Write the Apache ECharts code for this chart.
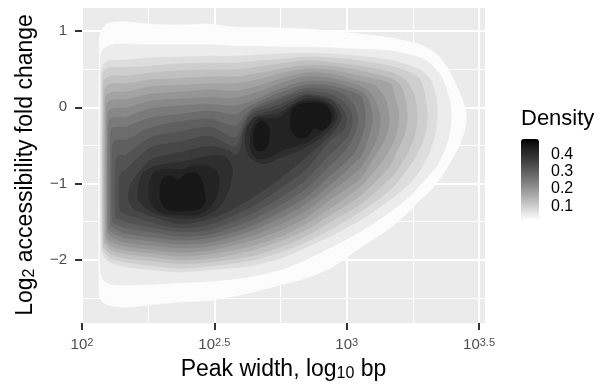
<!DOCTYPE html>
<html>
<head>
<meta charset="utf-8">
<script src="https://cdn.jsdelivr.net/npm/echarts@6/dist/echarts.min.js"></script>
<style>
html, body { margin: 0; padding: 0; background: #fff; }
#chart { width: 600px; height: 385px; }
</style>
</head>
<body>
<div id="chart"></div>
<script>
// contour levels of the 2d density
const levels = [0.025, 0.05, 0.075, 0.1, 0.125, 0.15, 0.175, 0.2, 0.225, 0.25, 0.275, 0.3, 0.325, 0.35, 0.375, 0.4, 0.425, 0.45];

// contour outlines, [log10 peak width, log2 fold change]
const band01 = [[2.065,-2.46],[2.065,0.88],[2.073,1.01],[2.092,1.09],[2.126,1.12],[2.164,1.12],[2.258,1.09],[2.371,1.08],[2.485,1.09],[2.579,1.05],[2.674,1.05],[2.749,1.04],[2.844,1.03],[2.938,1.00],[3.051,0.96],[3.165,0.91],[3.278,0.82],[3.342,0.69],[3.380,0.52],[3.410,0.32],[3.437,0.10],[3.452,-0.10],[3.444,-0.32],[3.422,-0.53],[3.391,-0.72],[3.354,-0.93],[3.308,-1.12],[3.278,-1.21],[3.240,-1.35],[3.165,-1.58],[3.051,-1.84],[2.938,-2.11],[2.844,-2.24],[2.749,-2.33],[2.636,-2.43],[2.485,-2.53],[2.371,-2.55],[2.258,-2.59],[2.164,-2.62],[2.107,-2.60],[2.077,-2.55]];
const band02 = [[2.069,-2.13],[2.069,0.65],[2.077,0.75],[2.096,0.80],[2.126,0.83],[2.164,0.83],[2.258,0.82],[2.371,0.82],[2.485,0.82],[2.579,0.80],[2.674,0.80],[2.749,0.79],[2.844,0.79],[2.938,0.78],[3.051,0.76],[3.165,0.74],[3.278,0.65],[3.323,0.55],[3.361,0.38],[3.384,0.16],[3.395,-0.06],[3.391,-0.30],[3.373,-0.53],[3.342,-0.76],[3.308,-0.90],[3.278,-1.02],[3.233,-1.18],[3.165,-1.37],[3.051,-1.63],[2.938,-1.84],[2.844,-2.00],[2.749,-2.13],[2.636,-2.22],[2.485,-2.28],[2.371,-2.30],[2.258,-2.32],[2.164,-2.33],[2.107,-2.32],[2.080,-2.26]];
const band03 = [[2.073,-1.87],[2.073,0.46],[2.080,0.55],[2.099,0.61],[2.164,0.62],[2.258,0.65],[2.371,0.66],[2.485,0.67],[2.579,0.67],[2.674,0.69],[2.749,0.70],[2.844,0.71],[2.938,0.70],[3.051,0.67],[3.165,0.62],[3.278,0.49],[3.316,0.36],[3.339,0.12],[3.342,-0.14],[3.331,-0.40],[3.308,-0.63],[3.278,-0.82],[3.240,-0.99],[3.165,-1.21],[3.051,-1.48],[2.938,-1.69],[2.844,-1.84],[2.749,-1.98],[2.636,-2.08],[2.485,-2.13],[2.371,-2.16],[2.258,-2.13],[2.164,-2.09],[2.107,-2.03],[2.084,-1.96]];
const band04 = [[2.077,-1.84],[2.077,0.38],[2.084,0.48],[2.107,0.52],[2.164,0.52],[2.258,0.54],[2.371,0.57],[2.485,0.58],[2.579,0.58],[2.674,0.61],[2.749,0.63],[2.844,0.66],[2.938,0.65],[3.051,0.61],[3.165,0.54],[3.240,0.45],[3.278,0.36],[3.297,0.13],[3.305,-0.14],[3.293,-0.39],[3.263,-0.63],[3.221,-0.85],[3.165,-1.08],[3.051,-1.37],[2.938,-1.60],[2.844,-1.77],[2.749,-1.90],[2.636,-2.01],[2.485,-2.08],[2.371,-2.11],[2.258,-2.07],[2.164,-2.03],[2.107,-1.98],[2.088,-1.91]];
const band05 = [[2.080,-1.81],[2.080,0.29],[2.088,0.37],[2.111,0.41],[2.164,0.41],[2.258,0.45],[2.371,0.48],[2.485,0.49],[2.579,0.49],[2.674,0.53],[2.749,0.57],[2.844,0.61],[2.938,0.59],[3.051,0.54],[3.165,0.46],[3.221,0.36],[3.255,0.16],[3.267,-0.14],[3.255,-0.39],[3.225,-0.63],[3.184,-0.85],[3.165,-0.93],[3.051,-1.27],[2.938,-1.50],[2.844,-1.69],[2.749,-1.83],[2.636,-1.95],[2.485,-2.03],[2.371,-2.05],[2.258,-2.01],[2.164,-1.98],[2.107,-1.92],[2.092,-1.87]];
const band06 = [[2.084,-1.77],[2.084,0.20],[2.092,0.27],[2.114,0.31],[2.164,0.31],[2.258,0.36],[2.371,0.38],[2.485,0.40],[2.579,0.40],[2.674,0.45],[2.749,0.50],[2.844,0.55],[2.938,0.54],[3.051,0.48],[3.165,0.38],[3.203,0.29],[3.221,0.12],[3.229,-0.14],[3.218,-0.36],[3.187,-0.59],[3.165,-0.76],[3.051,-1.16],[2.938,-1.41],[2.844,-1.61],[2.749,-1.75],[2.636,-1.88],[2.485,-1.98],[2.371,-2.00],[2.258,-1.96],[2.164,-1.92],[2.107,-1.87],[2.096,-1.82]];
const band07 = [[2.088,-1.71],[2.088,0.10],[2.096,0.17],[2.118,0.20],[2.164,0.20],[2.258,0.27],[2.371,0.29],[2.485,0.31],[2.579,0.31],[2.674,0.37],[2.749,0.44],[2.844,0.50],[2.938,0.49],[3.051,0.41],[3.165,0.31],[3.180,0.16],[3.195,-0.04],[3.195,-0.23],[3.180,-0.43],[3.150,-0.63],[3.108,-0.82],[3.051,-1.04],[2.938,-1.32],[2.844,-1.53],[2.749,-1.69],[2.636,-1.82],[2.485,-1.92],[2.371,-1.95],[2.258,-1.91],[2.164,-1.87],[2.111,-1.82],[2.096,-1.77]];
const band08 = [[2.092,-1.67],[2.092,-0.01],[2.099,0.07],[2.122,0.10],[2.164,0.10],[2.258,0.17],[2.371,0.20],[2.485,0.23],[2.579,0.21],[2.674,0.29],[2.749,0.37],[2.844,0.45],[2.938,0.44],[3.051,0.34],[3.108,0.28],[3.146,0.10],[3.161,-0.17],[3.146,-0.40],[3.108,-0.63],[3.051,-0.93],[2.938,-1.21],[2.844,-1.45],[2.749,-1.61],[2.636,-1.75],[2.485,-1.87],[2.371,-1.90],[2.258,-1.86],[2.164,-1.82],[2.114,-1.77],[2.099,-1.73]];
const band09 = [[2.096,-1.63],[2.096,-0.11],[2.103,-0.04],[2.126,-0.01],[2.164,-0.01],[2.258,0.08],[2.371,0.11],[2.485,0.13],[2.579,0.12],[2.674,0.21],[2.749,0.31],[2.844,0.40],[2.938,0.38],[3.051,0.28],[3.097,0.16],[3.119,-0.01],[3.127,-0.19],[3.112,-0.43],[3.082,-0.63],[3.051,-0.80],[2.938,-1.11],[2.844,-1.36],[2.749,-1.53],[2.636,-1.69],[2.485,-1.82],[2.371,-1.84],[2.258,-1.81],[2.164,-1.77],[2.118,-1.71],[2.103,-1.67]];
const band10 = [[2.099,-1.58],[2.099,-0.23],[2.107,-0.15],[2.130,-0.13],[2.164,-0.13],[2.258,-0.02],[2.371,0.02],[2.485,0.04],[2.579,0.02],[2.674,0.13],[2.749,0.24],[2.844,0.34],[2.938,0.33],[3.051,0.21],[3.082,0.10],[3.097,-0.17],[3.082,-0.40],[3.051,-0.65],[2.938,-1.01],[2.844,-1.27],[2.749,-1.45],[2.636,-1.62],[2.485,-1.77],[2.371,-1.79],[2.258,-1.75],[2.164,-1.71],[2.122,-1.66],[2.107,-1.62]];
const band11 = [[2.107,-1.53],[2.107,-0.36],[2.114,-0.27],[2.137,-0.26],[2.164,-0.26],[2.258,-0.14],[2.371,-0.09],[2.485,-0.05],[2.579,-0.10],[2.621,-0.01],[2.674,0.08],[2.749,0.19],[2.844,0.29],[2.938,0.28],[3.051,0.15],[3.067,-0.01],[3.070,-0.19],[3.055,-0.40],[3.029,-0.59],[2.995,-0.72],[2.938,-0.89],[2.844,-1.18],[2.749,-1.37],[2.636,-1.56],[2.485,-1.71],[2.371,-1.74],[2.258,-1.70],[2.164,-1.65],[2.130,-1.60],[2.114,-1.57]];
const band12 = [[2.114,-1.48],[2.114,-0.53],[2.122,-0.45],[2.141,-0.43],[2.164,-0.43],[2.258,-0.27],[2.371,-0.19],[2.485,-0.15],[2.579,-0.25],[2.621,-0.09],[2.674,0.04],[2.749,0.13],[2.844,0.25],[2.938,0.23],[2.995,0.15],[3.029,0.02],[3.044,-0.17],[3.029,-0.36],[2.995,-0.56],[2.938,-0.76],[2.844,-1.07],[2.749,-1.28],[2.636,-1.48],[2.485,-1.66],[2.371,-1.69],[2.258,-1.63],[2.164,-1.58],[2.137,-1.54],[2.122,-1.52]];
const band13 = [[2.126,-1.41],[2.126,-0.72],[2.133,-0.65],[2.148,-0.63],[2.164,-0.63],[2.258,-0.40],[2.371,-0.32],[2.485,-0.26],[2.579,-0.40],[2.613,-0.19],[2.643,-0.04],[2.674,0.00],[2.749,0.10],[2.844,0.21],[2.938,0.17],[2.987,0.07],[3.014,-0.04],[3.021,-0.19],[3.006,-0.36],[2.976,-0.49],[2.938,-0.61],[2.844,-0.95],[2.749,-1.18],[2.636,-1.40],[2.485,-1.60],[2.371,-1.63],[2.258,-1.57],[2.164,-1.50],[2.141,-1.46],[2.130,-1.45]];
const band14 = [[2.141,-1.32],[2.141,-0.93],[2.148,-0.86],[2.164,-0.82],[2.258,-0.53],[2.371,-0.45],[2.485,-0.38],[2.579,-0.52],[2.606,-0.32],[2.628,-0.14],[2.655,-0.06],[2.674,-0.04],[2.749,0.04],[2.844,0.17],[2.938,0.12],[2.976,0.02],[2.999,-0.14],[2.987,-0.30],[2.938,-0.43],[2.844,-0.82],[2.749,-1.06],[2.636,-1.31],[2.485,-1.53],[2.371,-1.58],[2.258,-1.50],[2.164,-1.40],[2.148,-1.37]];
const band15 = [[2.175,-1.21],[2.179,-1.06],[2.194,-0.95],[2.258,-0.69],[2.371,-0.59],[2.485,-0.51],[2.553,-0.56],[2.579,-0.63],[2.598,-0.56],[2.613,-0.30],[2.636,-0.17],[2.658,-0.11],[2.692,-0.07],[2.749,-0.01],[2.844,0.15],[2.938,0.10],[2.968,-0.01],[2.980,-0.13],[2.961,-0.27],[2.919,-0.43],[2.844,-0.66],[2.749,-0.93],[2.636,-1.20],[2.560,-1.35],[2.485,-1.46],[2.371,-1.53],[2.258,-1.42],[2.194,-1.33]];
const band16a = [[2.213,-1.21],[2.213,-1.06],[2.228,-0.87],[2.277,-0.77],[2.371,-0.72],[2.447,-0.66],[2.504,-0.63],[2.545,-0.66],[2.568,-0.80],[2.560,-1.02],[2.538,-1.21],[2.504,-1.35],[2.447,-1.44],[2.371,-1.46],[2.296,-1.41],[2.243,-1.33]];
const band16bc = [[2.617,-0.47],[2.624,-0.27],[2.651,-0.14],[2.692,-0.11],[2.749,-0.07],[2.798,0.04],[2.844,0.11],[2.908,0.10],[2.946,0.02],[2.965,-0.11],[2.946,-0.26],[2.893,-0.42],[2.825,-0.56],[2.749,-0.66],[2.689,-0.74],[2.636,-0.66]];
const band17a = [[2.258,-1.25],[2.254,-1.03],[2.269,-0.87],[2.315,-0.81],[2.371,-0.82],[2.428,-0.76],[2.477,-0.77],[2.511,-0.85],[2.519,-1.02],[2.504,-1.20],[2.477,-1.33],[2.439,-1.41],[2.371,-1.41],[2.303,-1.39]];
const band17bc = [[2.636,-0.45],[2.643,-0.27],[2.666,-0.15],[2.704,-0.15],[2.749,-0.13],[2.787,-0.01],[2.825,0.07],[2.893,0.08],[2.938,0.02],[2.953,-0.10],[2.938,-0.23],[2.900,-0.34],[2.855,-0.45],[2.806,-0.51],[2.757,-0.56],[2.711,-0.65],[2.666,-0.68],[2.640,-0.59]];
const band18a = [[2.296,-1.20],[2.296,-1.03],[2.307,-0.93],[2.334,-0.90],[2.364,-0.95],[2.394,-0.87],[2.432,-0.86],[2.451,-0.95],[2.462,-1.11],[2.466,-1.24],[2.443,-1.33],[2.379,-1.36],[2.318,-1.33]];
const band18b = [[2.647,-0.40],[2.655,-0.26],[2.677,-0.18],[2.696,-0.21],[2.708,-0.31],[2.704,-0.47],[2.689,-0.56],[2.666,-0.57],[2.651,-0.51]];
const band18c = [[2.791,-0.30],[2.787,-0.14],[2.798,-0.01],[2.825,0.04],[2.881,0.06],[2.923,0.02],[2.942,-0.09],[2.934,-0.22],[2.908,-0.30],[2.878,-0.27],[2.851,-0.38],[2.817,-0.40]];

const xTicks = [2, 2.5, 3, 3.5];
const yTicks = [-2, -1, 0, 1];
const densityTicks = [0.1, 0.2, 0.3, 0.4];

const rings = [
    [levels[0], band01], [levels[1], band02], [levels[2], band03], [levels[3], band04],
    [levels[4], band05], [levels[5], band06], [levels[6], band07], [levels[7], band08],
    [levels[8], band09], [levels[9], band10], [levels[10], band11], [levels[11], band12],
    [levels[12], band13], [levels[13], band14], [levels[14], band15],
    [levels[15], band16a], [levels[15], band16bc],
    [levels[16], band17a], [levels[16], band17bc],
    [levels[17], band18a], [levels[17], band18b], [levels[17], band18c]
];

const font = '"Liberation Sans", Arial, sans-serif';
const xMin = 2, xMax = 3.5225;
const yMin = -2.827, yMax = 1.3145;
const dMin = 0.02, dMax = 0.49;
// white -> black, even steps in lightness
const ramp = ['#ffffff', '#e2e2e2', '#c6c6c6', '#ababab', '#919191', '#777777', '#5e5e5e', '#474747', '#303030', '#1b1b1b', '#000000'];

const chart = echarts.init(document.getElementById('chart'));

const option = {
    animation: false,
    backgroundColor: '#fff',
    title: {
        text: 'Density', left: 521, top: 108, padding: 0,
        textStyle: { fontSize: 22, fontWeight: 'normal', color: '#000', fontFamily: font }
    },
    grid: [
        { left: 82, top: 7, width: 403, height: 316, show: true, backgroundColor: '#ebebeb', borderWidth: 0, containLabel: false, outerBoundsMode: 'none' },
        { left: 521, top: 139, width: 18, height: 81, show: false, containLabel: false, outerBoundsMode: 'none' }
    ],
    visualMap: {
        type: 'continuous', min: dMin, max: dMax, dimension: 2, seriesIndex: 0,
        calculable: false, hoverLink: false, left: 521, top: 139, itemWidth: 18, itemHeight: 81, padding: 0,
        inRange: { color: ramp }
    },
    xAxis: [
        {
            type: 'value', gridIndex: 0, min: xMin, max: xMax, interval: 0.5,
            axisLine: { show: false, onZero: false },
            axisTick: { show: true, customValues: xTicks, length: 7, lineStyle: { color: '#333', width: 2 } },
            axisLabel: {
                show: true, customValues: xTicks, margin: 14,
                formatter: (v) => '{b|10}{s|' + v + '}',
                rich: {
                    b: { fontSize: 15, lineHeight: 16, color: '#4d4d4d', fontFamily: font },
                    s: { fontSize: 11, lineHeight: 11, padding: [0, 0, 5, 0], color: '#4d4d4d', fontFamily: font }
                }
            },
            splitLine: { show: true, lineStyle: { color: '#fff', width: 2 } },
            name: '{t|Peak width, log}{s|10}{t| bp}', nameLocation: 'middle', nameGap: 34,
            nameTextStyle: {
                rich: {
                    t: { fontSize: 23, lineHeight: 24, color: '#000', fontFamily: font },
                    s: { fontSize: 16, lineHeight: 16, padding: [8, 0, 0, 0], color: '#000', fontFamily: font }
                }
            }
        },
        {
            type: 'value', gridIndex: 0, min: xMin, max: xMax, interval: 0.25,
            axisLine: { show: false, onZero: false }, axisTick: { show: false }, axisLabel: { show: false },
            splitLine: { show: true, lineStyle: { color: '#fff', width: 1 } }
        },
        { type: 'value', gridIndex: 1, show: false, axisLine: { onZero: false } }
    ],
    yAxis: [
        {
            type: 'value', gridIndex: 0, min: yMin, max: yMax, minInterval: 1, maxInterval: 1, splitNumber: 4,
            axisLine: { show: false, onZero: false },
            axisTick: { show: true, customValues: yTicks, length: 7, lineStyle: { color: '#333', width: 2 } },
            axisLabel: {
                show: true, customValues: yTicks, margin: 15, color: '#4d4d4d', fontSize: 15, fontFamily: font,
                formatter: (v) => String(v).replace('-', '\u2212')
            },
            splitLine: { show: true, lineStyle: { color: '#fff', width: 2 } },
            name: '{t|Log}{s|2}{t| accessibility fold change}', nameLocation: 'middle', nameGap: 44, nameRotate: 90,
            nameTextStyle: {
                rich: {
                    t: { fontSize: 23, lineHeight: 24, color: '#000', fontFamily: font },
                    s: { fontSize: 16, lineHeight: 16, padding: [8, 0, 0, 0], color: '#000', fontFamily: font }
                }
            }
        },
        {
            type: 'value', gridIndex: 0, min: yMin, max: yMax, minInterval: 0.5, maxInterval: 0.5, splitNumber: 8,
            axisLine: { show: false, onZero: false }, axisTick: { show: false }, axisLabel: { show: false },
            splitLine: { show: true, lineStyle: { color: '#fff', width: 1 } }
        },
        {
            type: 'value', gridIndex: 1, min: dMin, max: dMax, position: 'right',
            axisLine: { show: false, onZero: false },
            axisTick: { show: true, inside: true, customValues: densityTicks, length: 3.5, lineStyle: { color: '#fff', width: 1 } },
            axisLabel: {
                show: true, customValues: densityTicks, margin: 12, color: '#000', fontSize: 16, fontFamily: font,
                formatter: (v) => v.toFixed(1)
            },
            splitLine: { show: false }
        },
        {
            type: 'value', gridIndex: 1, min: dMin, max: dMax, position: 'left',
            axisLine: { show: false, onZero: false },
            axisTick: { show: true, inside: true, customValues: densityTicks, length: 3.5, lineStyle: { color: '#fff', width: 1 } },
            axisLabel: { show: false },
            splitLine: { show: false }
        }
    ],
    series: [
        {
            type: 'custom',
            xAxisIndex: 0,
            yAxisIndex: 0,
            clip: true,
            silent: true,
            encode: { x: 0, y: 1 },
            data: rings.map((r) => [r[1][0][0], r[1][0][1], r[0]]),
            renderItem: (params, api) => {
                const pts = rings[params.dataIndex][1].map((p) => api.coord(p));
                const c = api.visual('color');
                return {
                    type: 'polygon',
                    shape: { points: pts, smooth: 0.25 },
                    style: { fill: c, stroke: c, lineWidth: 0.6 }
                };
            }
        }
    ]
};

chart.setOption(option);
</script>
</body>
</html>
